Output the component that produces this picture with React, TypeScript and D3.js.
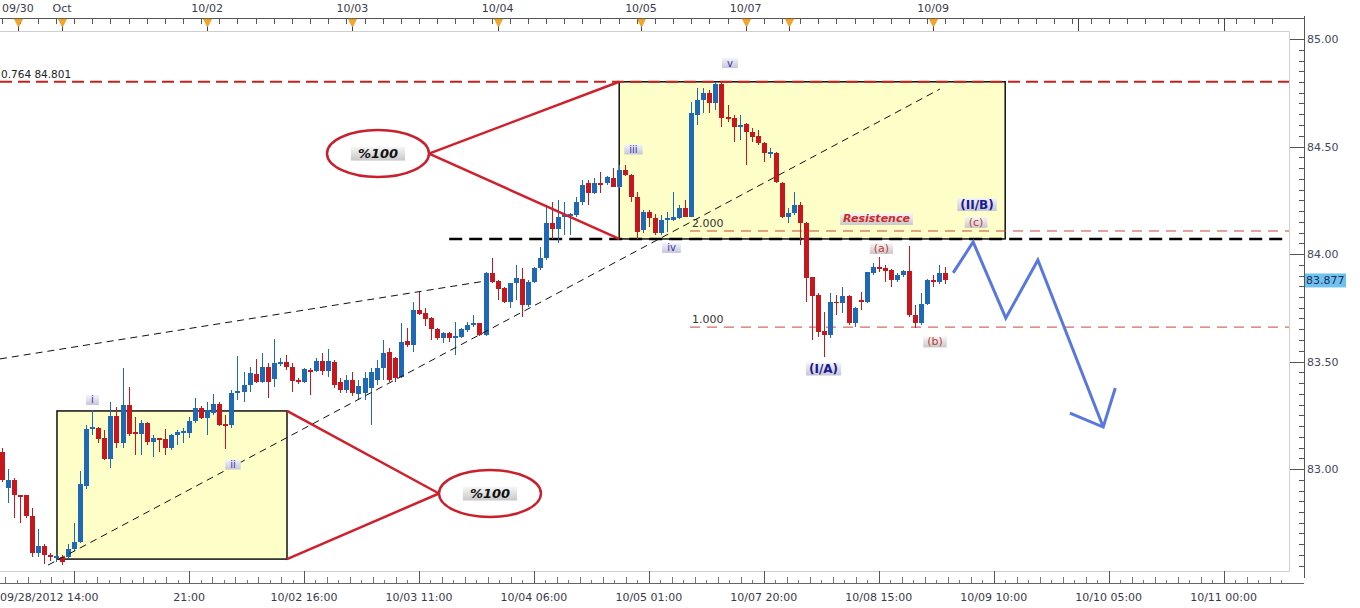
import React, { useEffect, useRef } from 'react';
import * as d3 from 'd3';

// hourly USD/JPY candles (index 0 = first bar on the left)
const open = [
  83.08, 82.91, 82.95, 82.88, 82.88, 82.78, 82.61, 82.64, 82.6, 82.585,
  82.59, 82.59, 82.63, 82.66, 82.92, 83.185, 83.19, 83.145, 83.045, 83.245,
  83.12, 83.3, 83.17, 83.165, 83.215, 83.125, 83.145, 83.14, 83.1, 83.16,
  83.167, 83.167, 83.223, 83.284, 83.237, 83.261, 83.302, 83.209, 83.205, 83.354,
  83.358, 83.391, 83.442, 83.405, 83.475, 83.419, 83.488, 83.498, 83.475, 83.414,
  83.405, 83.461, 83.456, 83.502, 83.456, 83.498, 83.405, 83.368, 83.414, 83.349,
  83.354, 83.377, 83.414, 83.47, 83.544, 83.516, 83.428, 83.595, 83.577, 83.74,
  83.726, 83.702, 83.651, 83.609, 83.633, 83.609, 83.614, 83.647, 83.67, 83.679,
  83.623, 83.912, 83.874, 83.842, 83.777, 83.865, 83.884, 83.763, 83.87, 83.935,
  83.981, 84.144, 84.116, 84.172, 84.177, 84.181, 84.242, 84.33, 84.284, 84.33,
  84.33, 84.353, 84.312, 84.391, 84.367, 84.265, 84.112, 84.195, 84.167, 84.098,
  84.158, 84.158, 84.167, 84.214, 84.172, 84.647, 84.716, 84.749, 84.702, 84.79,
  84.637, 84.633, 84.595, 84.605, 84.567, 84.549, 84.516, 84.47, 84.47, 84.33,
  84.172, 84.191, 84.228, 84.144, 83.893, 83.81, 83.642, 83.623, 83.777, 83.772,
  83.805, 83.679, 83.786, 83.777, 83.912, 83.94, 83.935, 83.926, 83.879, 83.902,
  83.921, 83.716, 83.679, 83.768, 83.879, 83.87, 83.912
];
const high = [
  83.1, 83.0, 82.96, 82.88, 82.88, 82.82, 82.72, 82.65, 82.61, 82.61,
  82.6, 82.65, 82.75, 82.99, 83.205, 83.275, 83.195, 83.18, 83.31, 83.29,
  83.47, 83.38, 83.24, 83.23, 83.22, 83.16, 83.145, 83.185, 83.165, 83.18,
  83.19, 83.242, 83.33, 83.293, 83.312, 83.349, 83.312, 83.251, 83.368, 83.526,
  83.451, 83.475, 83.512, 83.54, 83.493, 83.605, 83.516, 83.53, 83.493, 83.423,
  83.47, 83.47, 83.516, 83.54, 83.558, 83.507, 83.423, 83.437, 83.451, 83.414,
  83.451, 83.47, 83.507, 83.6, 83.563, 83.521, 83.679, 83.656, 83.777, 83.823,
  83.749, 83.707, 83.656, 83.637, 83.637, 83.684, 83.656, 83.684, 83.716, 83.68,
  83.916, 83.981, 83.879, 83.847, 83.866, 83.949, 83.935, 83.879, 83.94, 84.033,
  84.219, 84.242, 84.251, 84.242, 84.19, 84.265, 84.344, 84.344, 84.353, 84.381,
  84.363, 84.4, 84.414, 84.414, 84.37, 84.288, 84.205, 84.205, 84.186, 84.181,
  84.195, 84.288, 84.228, 84.251, 84.707, 84.772, 84.772, 84.763, 84.801, 84.801,
  84.693, 84.647, 84.647, 84.61, 84.586, 84.577, 84.521, 84.493, 84.474, 84.335,
  84.214, 84.288, 84.242, 84.148, 83.895, 83.819, 83.731, 83.819, 83.81, 83.847,
  83.807, 83.754, 83.823, 83.918, 83.958, 83.986, 83.949, 83.93, 83.912, 83.926,
  84.037, 83.763, 83.819, 83.884, 83.902, 83.949, 83.94
];
const low = [
  82.94, 82.84, 82.77, 82.75, 82.77, 82.59, 82.59, 82.56, 82.57, 82.567,
  82.555, 82.58, 82.62, 82.655, 82.905, 83.16, 83.12, 83.04, 83.005, 83.1,
  83.1, 83.155, 83.065, 83.065, 83.11, 83.055, 83.08, 83.065, 83.09, 83.11,
  83.12, 83.144, 83.214, 83.233, 83.158, 83.251, 83.2, 83.093, 83.191, 83.321,
  83.312, 83.358, 83.4, 83.4, 83.33, 83.382, 83.479, 83.461, 83.358, 83.395,
  83.4, 83.344, 83.451, 83.437, 83.428, 83.377, 83.354, 83.354, 83.34, 83.321,
  83.321, 83.205, 83.391, 83.414, 83.405, 83.405, 83.423, 83.567, 83.544, 83.716,
  83.665, 83.6, 83.6, 83.586, 83.591, 83.53, 83.609, 83.637, 83.661, 83.619,
  83.619, 83.865, 83.786, 83.772, 83.749, 83.786, 83.707, 83.753, 83.865, 83.926,
  83.972, 84.07, 84.051, 84.088, 84.088, 84.172, 84.228, 84.228, 84.28, 84.284,
  84.321, 84.31, 84.308, 84.365, 84.242, 84.07, 84.098, 84.126, 84.088, 84.088,
  84.102, 84.155, 84.165, 84.17, 84.17, 84.6, 84.656, 84.656, 84.67, 84.591,
  84.614, 84.521, 84.53, 84.414, 84.521, 84.507, 84.428, 84.446, 84.33, 84.167,
  84.144, 84.181, 84.042, 83.777, 83.6, 83.614, 83.521, 83.609, 83.716, 83.726,
  83.67, 83.661, 83.74, 83.772, 83.902, 83.916, 83.87, 83.847, 83.87, 83.893,
  83.707, 83.656, 83.67, 83.763, 83.847, 83.86, 83.86
];
const close = [
  82.95, 82.95, 82.88, 82.87, 82.78, 82.61, 82.64, 82.6, 82.59, 82.595,
  82.567, 82.63, 82.66, 82.93, 83.185, 83.195, 83.14, 83.045, 83.245, 83.12,
  83.3, 83.165, 83.163, 83.215, 83.125, 83.145, 83.135, 83.1, 83.16, 83.17,
  83.177, 83.223, 83.284, 83.237, 83.275, 83.302, 83.205, 83.2, 83.354, 83.363,
  83.391, 83.447, 83.405, 83.475, 83.405, 83.493, 83.498, 83.475, 83.409, 83.405,
  83.465, 83.451, 83.502, 83.456, 83.502, 83.391, 83.368, 83.414, 83.354, 83.386,
  83.423, 83.451, 83.47, 83.54, 83.414, 83.423, 83.591, 83.577, 83.74, 83.721,
  83.698, 83.651, 83.609, 83.633, 83.609, 83.619, 83.651, 83.67, 83.679, 83.623,
  83.912, 83.87, 83.837, 83.777, 83.865, 83.888, 83.763, 83.87, 83.935, 83.981,
  84.144, 84.116, 84.172, 84.181, 84.186, 84.242, 84.321, 84.284, 84.33, 84.321,
  84.358, 84.312, 84.391, 84.367, 84.265, 84.102, 84.195, 84.167, 84.098, 84.158,
  84.167, 84.172, 84.214, 84.172, 84.656, 84.716, 84.749, 84.702, 84.79, 84.633,
  84.628, 84.591, 84.6, 84.567, 84.544, 84.516, 84.47, 84.474, 84.335, 84.172,
  84.191, 84.228, 84.144, 83.888, 83.805, 83.637, 83.623, 83.777, 83.772, 83.805,
  83.679, 83.749, 83.777, 83.916, 83.94, 83.93, 83.921, 83.879, 83.902, 83.921,
  83.716, 83.679, 83.768, 83.879, 83.87, 83.912, 83.877
];

// time axes (bar index positions)
const bottomTickIdx = [12, 31, 50, 69, 88, 107, 126, 145, 164, 183, 202];
const bottomTickLabels = ['09/28/2012 14:00', '21:00', '10/02 16:00', '10/03 11:00', '10/04 06:00',
  '10/05 01:00', '10/07 20:00', '10/08 15:00', '10/09 10:00', '10/10 05:00', '10/11 00:00'];
const dayMarkIdx = [2.7, 10, 34, 58, 82, 105.7, 123, 130.2, 154];
const dayMarkLabels = ['09/30', 'Oct', '10/02', '10/03', '10/04', '10/05', '10/07', '', '10/09'];
const dayLineIdx = [178, 202];

const priceTicks = [83.0, 83.5, 84.0, 84.5, 85.0];
const lastPrice = 83.877;

// annotations
const fibTop = 84.801;
const resistanceLevel = 84.07;
const resistanceStart = 74;
const fibLevels = [{ label: '2.000', price: 84.107 }, { label: '1.000', price: 83.66 }];
const fibStart = 113.8;
const boxes = [
  { i0: 9.17, i1: 47.19, p0: 83.27, p1: 82.581 },
  { i0: 102.1, i1: 165.9, p0: 84.801, p1: 84.07 }
];
const trendLines = [
  [[-0.25, 83.512], [79.9, 83.874]],
  [[7.69, 82.553], [155.1, 84.767]]
];
const ovals = [
  { i: 62.23, p: 84.467, box: 1, side: 1 },
  { i: 80.74, p: 82.886, box: 0, side: -1 }
];
const projection = [[157.3, 83.912], [160.6, 84.056], [166.0, 83.702], [171.3, 83.972], [182.1, 83.195]];
const arrowHead = [[176.6, 83.26], [182.1, 83.195], [184.1, 83.377]];
const waveLabels = [
  { text: 'i', i: 15.04, p: 83.321, kind: 'wave' },
  { text: 'ii', i: 38.26, p: 83.021, kind: 'wave' },
  { text: 'iii', i: 104.46, p: 84.486, kind: 'wave' },
  { text: 'iv', i: 110.74, p: 84.028, kind: 'wave' },
  { text: 'v', i: 120.41, p: 84.888, kind: 'wave' },
  { text: '(I/A)', i: 135.87, p: 83.465, kind: 'major' },
  { text: '(II/B)', i: 161.24, p: 84.23, kind: 'major' },
  { text: '(a)', i: 145.45, p: 84.026, kind: 'sub' },
  { text: '(b)', i: 154.3, p: 83.591, kind: 'sub' },
  { text: '(c)', i: 161.08, p: 84.147, kind: 'sub' },
  { text: 'Resistence', i: 144.63, p: 84.163, kind: 'res' }
];

const kindStyle = {
  wave: { size: 10, weight: 'normal', italic: false, fill: '#3434a8', padX: 5, h: 10, grad: 'gLav' },
  major: { size: 12, weight: 'bold', italic: false, fill: '#1a1a8e', padX: 3, h: 13, grad: 'gLav' },
  sub: { size: 11, weight: 'normal', italic: false, fill: '#c03a3a', padX: 4, h: 11, grad: 'gGray' },
  res: { size: 11, weight: 'bold', italic: true, fill: '#cc2a2a', padX: 3, h: 12, grad: 'gGray' },
  pct: { size: 13, weight: 'bold', italic: true, fill: '#111', padX: 7, h: 14, grad: 'gGray' }
};

const W = 1360;
const H = 608;
const plot = { l: 0, t: 31, r: 1289, b: 571 };
const axisX = 1304;

const BLUE = '#1d69b5';
const RED = '#c5171d';

const App = () => {
  const container = useRef(null);

  useEffect(() => {
    createChart();
  }, []);

  const createChart = () => {
    const svg = d3
      .select(container.current)
      .selectAll('svg')
      .data([0])
      .join('svg')
      .attr('width', W)
      .attr('height', H)
      .style('display', 'block')
      .style('font-family', '"DejaVu Sans", Verdana, sans-serif');
    svg.selectAll('*').remove();

    const x = d3.scaleLinear().domain([0, 200]).range([1.5, 1211.5]);
    const y = d3.scaleLinear().domain([83, 85]).range([469, 39]);

    const defs = svg.append('defs');
    defs.append('clipPath').attr('id', 'plotClip')
      .append('rect').attr('x', plot.l).attr('y', plot.t)
      .attr('width', plot.r - plot.l).attr('height', plot.b - plot.t);
    const grad = (id, c0, c1) => {
      const g = defs.append('linearGradient').attr('id', id).attr('x1', 0).attr('y1', 0).attr('x2', 0).attr('y2', 1);
      g.append('stop').attr('offset', '0%').attr('stop-color', c0);
      g.append('stop').attr('offset', '100%').attr('stop-color', c1);
    };
    grad('gLav', '#f3f3fb', '#c6c6d6');
    grad('gGray', '#f7f7f7', '#c8c8c8');

    svg.append('rect').attr('width', W).attr('height', H).attr('fill', '#fff');

    const pg = svg.append('g').attr('clip-path', 'url(#plotClip)');

    // yellow boxes
    pg.selectAll('.box')
      .data(boxes)
      .join('rect')
      .attr('class', 'box')
      .attr('x', d => x(d.i0))
      .attr('y', d => y(d.p0))
      .attr('width', d => x(d.i1) - x(d.i0))
      .attr('height', d => y(d.p1) - y(d.p0))
      .attr('fill', '#fefec9')
      .attr('stroke', '#111')
      .attr('stroke-width', 1.5);

    // fibonacci levels (thin)
    pg.selectAll('.fib')
      .data(fibLevels)
      .join('line')
      .attr('x1', x(fibStart))
      .attr('x2', plot.r)
      .attr('y1', d => y(d.price))
      .attr('y2', d => y(d.price))
      .attr('stroke', '#c8463a')
      .attr('stroke-width', 1)
      .attr('stroke-dasharray', '10,7');
    pg.selectAll('.fibtxt')
      .data(fibLevels)
      .join('text')
      .attr('x', x(fibStart) + 2)
      .attr('y', d => y(d.price) - 4)
      .attr('font-size', 11)
      .attr('fill', '#333')
      .text(d => d.label);

    // resistance
    pg.append('line')
      .attr('x1', x(resistanceStart)).attr('x2', plot.r)
      .attr('y1', y(resistanceLevel)).attr('y2', y(resistanceLevel))
      .attr('stroke', '#000').attr('stroke-width', 2.5).attr('stroke-dasharray', '13,7');

    // 0.764 level
    pg.append('line')
      .attr('x1', plot.l).attr('x2', plot.r)
      .attr('y1', y(fibTop)).attr('y2', y(fibTop))
      .attr('stroke', '#c8201e').attr('stroke-width', 2).attr('stroke-dasharray', '12,6');
    pg.append('text')
      .attr('x', 1).attr('y', y(fibTop) - 4)
      .attr('font-size', 10.5).attr('fill', '#222')
      .text('0.764 ' + fibTop.toFixed(3));

    // candles
    const n = Math.min(open.length, high.length, low.length, close.length);
    const bars = d3.range(n).map(i => ({ i, o: open[i], h: high[i], l: low[i], c: close[i] }));
    const bw = 4.6;
    const cg = pg.append('g').attr('shape-rendering', 'crispEdges');
    cg.selectAll('.wick')
      .data(bars)
      .join('line')
      .attr('x1', d => Math.round(x(d.i)) + 0.5)
      .attr('x2', d => Math.round(x(d.i)) + 0.5)
      .attr('y1', d => y(d.h))
      .attr('y2', d => y(d.l))
      .attr('stroke', d => (d.c >= d.o ? BLUE : RED))
      .attr('stroke-width', 1);
    cg.selectAll('.body')
      .data(bars)
      .join('rect')
      .attr('x', d => Math.round(x(d.i)) + 0.5 - bw / 2)
      .attr('y', d => y(Math.max(d.o, d.c)))
      .attr('width', bw)
      .attr('height', d => Math.max(1.5, Math.abs(y(d.o) - y(d.c))))
      .attr('fill', d => (d.c >= d.o ? BLUE : RED));

    // trend lines
    const line = d3.line().x(d => x(d[0])).y(d => y(d[1]));
    pg.selectAll('.trend')
      .data(trendLines)
      .join('path')
      .attr('d', d => line(d))
      .attr('fill', 'none')
      .attr('stroke', '#111')
      .attr('stroke-width', 1)
      .attr('stroke-dasharray', '7,5');

    // connector lines from ovals to boxes
    const rx = 51;
    const ry = 23.5;
    ovals.forEach(o => {
      const b = boxes[o.box];
      const bx = o.side > 0 ? x(b.i0) : x(b.i1);
      const sx = x(o.i) + o.side * rx;
      const sy = y(o.p);
      [b.p0, b.p1].forEach(p => {
        pg.append('line')
          .attr('x1', sx).attr('y1', sy).attr('x2', bx).attr('y2', y(p))
          .attr('stroke', '#d0202c').attr('stroke-width', 2.5);
      });
    });
    pg.selectAll('.oval')
      .data(ovals)
      .join('ellipse')
      .attr('cx', d => x(d.i))
      .attr('cy', d => y(d.p))
      .attr('rx', rx)
      .attr('ry', ry)
      .attr('fill', '#fff')
      .attr('stroke', '#c8202c')
      .attr('stroke-width', 2.5);

    // projected path
    pg.append('path')
      .attr('d', line(projection))
      .attr('fill', 'none').attr('stroke', '#5878e0').attr('stroke-width', 3).attr('stroke-linejoin', 'miter');
    pg.append('path')
      .attr('d', line(arrowHead))
      .attr('fill', 'none').attr('stroke', '#5878e0').attr('stroke-width', 3).attr('stroke-linejoin', 'miter');

    // labels
    const allLabels = waveLabels.concat(ovals.map(o => ({ text: '%100', i: o.i, p: o.p, kind: 'pct' })));
    allLabels.forEach(d => {
      const st = kindStyle[d.kind];
      const g = pg.append('g').attr('transform', `translate(${x(d.i)},${y(d.p)})`);
      const rect = g.append('rect');
      const t = g.append('text')
        .attr('text-anchor', 'middle')
        .attr('dominant-baseline', 'central')
        .attr('font-size', st.size)
        .attr('font-weight', st.weight)
        .attr('font-style', st.italic ? 'italic' : 'normal')
        .attr('fill', st.fill)
        .text(d.text);
      const w = t.node().getComputedTextLength() + st.padX * 2;
      rect.attr('x', -w / 2).attr('y', -st.h / 2).attr('width', w).attr('height', st.h)
        .attr('fill', `url(#${st.grad})`);
    });

    // plot frame
    svg.append('path')
      .attr('d', `M${plot.l},${plot.t + 0.5}H${plot.r + 0.5}V${plot.b + 0.5}H${plot.l}`)
      .attr('fill', 'none').attr('stroke', '#cfcfcf').attr('stroke-width', 1);

    // right price axis
    const ax = svg.append('g').attr('shape-rendering', 'crispEdges');
    ax.append('line').attr('x1', axisX + 0.5).attr('x2', axisX + 0.5).attr('y1', 16).attr('y2', 578)
      .attr('stroke', '#555');
    const minor = d3.range(82.55, 85.0001, 0.05);
    ax.selectAll('.ymin')
      .data(minor)
      .join('line')
      .attr('x1', axisX - 5).attr('x2', axisX)
      .attr('y1', d => Math.round(y(d)) + 0.5).attr('y2', d => Math.round(y(d)) + 0.5)
      .attr('stroke', '#555');
    ax.selectAll('.ymaj')
      .data(priceTicks)
      .join('line')
      .attr('x1', plot.r + 1).attr('x2', axisX)
      .attr('y1', d => Math.round(y(d)) + 0.5).attr('y2', d => Math.round(y(d)) + 0.5)
      .attr('stroke', '#555');
    svg.selectAll('.ylab')
      .data(priceTicks)
      .join('text')
      .attr('x', axisX + 3)
      .attr('y', d => y(d) + 4)
      .attr('font-size', 11)
      .attr('fill', '#44465e')
      .text(d => d.toFixed(2));
    svg.append('rect')
      .attr('x', axisX + 1).attr('y', y(lastPrice) - 7).attr('width', 41).attr('height', 14)
      .attr('fill', '#70c2ee');
    svg.append('text')
      .attr('x', axisX + 2).attr('y', y(lastPrice) + 4)
      .attr('font-size', 11).attr('fill', '#1b2b5c')
      .text(lastPrice.toFixed(3));

    // top date axis
    const tx = svg.append('g').attr('shape-rendering', 'crispEdges');
    tx.append('line').attr('x1', 0).attr('x2', axisX).attr('y1', 18.5).attr('y2', 18.5).attr('stroke', '#555');
    tx.selectAll('.tmin')
      .data(d3.range(0, 212, 3))
      .join('line')
      .attr('x1', d => Math.round(x(d)) + 0.5).attr('x2', d => Math.round(x(d)) + 0.5)
      .attr('y1', 18).attr('y2', 24)
      .attr('stroke', '#555');
    tx.selectAll('.tday')
      .data(dayMarkIdx.concat(dayLineIdx))
      .join('line')
      .attr('x1', d => Math.round(x(d)) + 0.5).attr('x2', d => Math.round(x(d)) + 0.5)
      .attr('y1', 18).attr('y2', 31)
      .attr('stroke', '#444');
    svg.selectAll('.tri')
      .data(dayMarkIdx)
      .join('path')
      .attr('d', d => {
        const cx = Math.round(x(d)) + 0.5;
        return `M${cx - 4},19L${cx + 4},19L${cx},27Z`;
      })
      .attr('fill', '#f6a52a')
      .attr('stroke', '#dc8a14')
      .attr('stroke-width', 0.6);
    svg.selectAll('.tlab')
      .data(dayMarkIdx.map((d, k) => ({ i: d, label: dayMarkLabels[k] })).filter(d => d.label))
      .join('text')
      .attr('x', d => x(d.i))
      .attr('y', 12)
      .attr('text-anchor', 'middle')
      .attr('font-size', 11)
      .attr('fill', '#3a3a4c')
      .text(d => d.label);

    // bottom time axis
    const bx = svg.append('g').attr('shape-rendering', 'crispEdges');
    bx.append('line').attr('x1', 0).attr('x2', axisX).attr('y1', 583.5).attr('y2', 583.5).attr('stroke', '#666');
    const bMinor = d3.range(-10, 110).map(k => 12 + k * 1.9).filter(d => x(d) >= 0 && x(d) <= plot.r);
    bx.selectAll('.bmin')
      .data(bMinor)
      .join('line')
      .attr('x1', d => Math.round(x(d)) + 0.5).attr('x2', d => Math.round(x(d)) + 0.5)
      .attr('y1', (d, k) => (k % 2 === 0 ? 577 : 580)).attr('y2', 583)
      .attr('stroke', '#777');
    bx.selectAll('.bmaj')
      .data(bottomTickIdx)
      .join('line')
      .attr('x1', d => Math.round(x(d)) + 0.5).attr('x2', d => Math.round(x(d)) + 0.5)
      .attr('y1', 571).attr('y2', 583)
      .attr('stroke', '#555');
    // the first (long) label is pinned to the left edge, the others sit centred on their tick
    svg.selectAll('.blab')
      .data(bottomTickIdx.map((d, k) => ({ i: d, label: bottomTickLabels[k], first: k === 0 })))
      .join('text')
      .attr('x', d => (d.first ? 0 : x(d.i)))
      .attr('y', 601)
      .attr('text-anchor', d => (d.first ? 'start' : 'middle'))
      .attr('font-size', 11)
      .attr('fill', '#3a3a4c')
      .text(d => d.label);
  };

  return <div ref={container} style={{ position: 'absolute', left: 0, top: 0 }}></div>;
};

export default App;
